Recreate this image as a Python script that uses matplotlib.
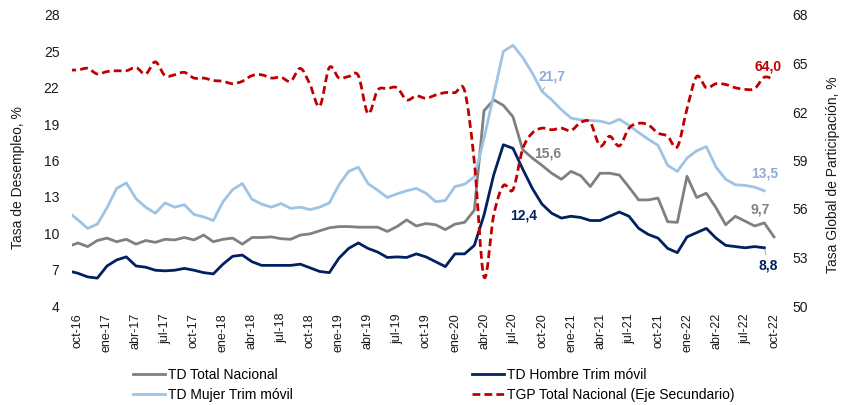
import numpy as np
import matplotlib
matplotlib.use("Agg")
import matplotlib.pyplot as plt
from matplotlib.lines import Line2D
from matplotlib.path import Path
from matplotlib.patches import PathPatch

plt.rcParams['font.family'] = ['Liberation Sans', 'DejaVu Sans']

# ---- data (first value = sep-16, partially visible at the left edge) ----
td_total = [8.9, 9.2, 8.9, 9.4, 9.6, 9.3, 9.5, 9.1, 9.4, 9.25, 9.5,
            9.45, 9.65, 9.45, 9.85, 9.3, 9.5, 9.6, 9.1, 9.65, 9.65, 9.7,
            9.55, 9.5, 9.85, 9.95, 10.2, 10.45, 10.55, 10.55, 10.5, 10.5, 10.5,
            10.15, 10.55, 11.1, 10.6, 10.8, 10.7, 10.3, 10.75, 10.9, 11.9,
            20.1, 21.0, 20.55, 19.6, 16.9, 16.2, 15.6, 14.95, 14.45, 15.1,
            14.75, 13.85, 14.95, 14.95, 14.8, 13.8, 12.75, 12.75, 12.9, 10.95,
            10.9, 14.7, 12.95, 13.3, 12.1, 10.7, 11.4, 11.0, 10.6, 10.85, 9.7]

td_mujer = [11.75, 11.1, 10.4, 10.75, 12.1, 13.7, 14.15, 12.85, 12.15, 11.65, 12.5,
            12.15, 12.35, 11.55, 11.35, 11.05, 12.6, 13.6, 14.1, 12.8, 12.4, 12.15,
            12.45, 12.05, 12.15, 11.95, 12.15, 12.5, 14.0, 15.1, 15.45, 14.1, 13.55,
            12.95, 13.25, 13.5, 13.7, 13.3, 12.6, 12.7, 13.85, 14.05, 14.65,
            17.8, 21.4, 25.0, 25.5, 24.5, 23.2, 21.7, 21.0, 20.2, 19.5,
            19.35, 19.3, 19.25, 19.05, 19.4, 18.9, 18.3, 17.75, 17.25, 15.6,
            15.1, 16.2, 16.8, 17.15, 15.45, 14.45, 14.0, 13.95, 13.8, 13.5]

td_hombre = [6.9, 6.7, 6.4, 6.3, 7.3, 7.8, 8.05, 7.3, 7.2, 6.95, 6.9,
             6.95, 7.1, 6.95, 6.75, 6.65, 7.45, 8.1, 8.2, 7.65, 7.35, 7.35,
             7.35, 7.35, 7.45, 7.15, 6.85, 6.75, 7.95, 8.75, 9.2, 8.75, 8.45,
             8.0, 8.05, 8.0, 8.3, 8.05, 7.65, 7.25, 8.3, 8.3, 9.0,
             11.5, 14.8, 17.3, 17.0, 15.3, 13.7, 12.4, 11.65, 11.25, 11.4,
             11.3, 11.05, 11.05, 11.4, 11.75, 11.4, 10.4, 9.9, 9.6, 8.75,
             8.4, 9.7, 10.05, 10.4, 9.6, 9.0, 8.9, 8.8, 8.9, 8.8]

tgp_total = [64.6, 64.6, 64.7, 64.35, 64.5, 64.55, 64.55, 64.75, 64.35, 65.1, 64.25,
             64.3, 64.45, 64.1, 64.1, 63.95, 63.9, 63.75, 63.9, 64.25, 64.3, 64.1,
             64.15, 63.9, 64.7, 63.7, 62.35, 64.75, 64.1, 64.2, 64.25, 61.9, 63.35,
             63.45, 63.5, 62.75, 63.0, 62.85, 63.05, 63.2, 63.2, 63.3, 58.9,
             51.8, 55.6, 57.45, 57.2, 59.7, 60.7, 61.0, 60.9, 61.0, 60.85,
             61.35, 61.35, 59.9, 60.5, 59.9, 61.0, 61.3, 61.2, 60.7, 60.5,
             59.85, 62.2, 64.2, 63.5, 63.75, 63.7, 63.5, 63.4, 63.45, 64.15, 64.0]

tick_labels = ['oct-16', 'ene-17', 'abr-17', 'jul-17', 'oct-17', 'ene-18', 'abr-18',
               'jul-18', 'oct-18', 'ene-19', 'abr-19', 'jul-19', 'oct-19', 'ene-20',
               'abr-20', 'jul-20', 'oct-20', 'ene-21', 'abr-21', 'jul-21', 'oct-21',
               'ene-22', 'abr-22', 'jul-22', 'oct-22']

series_names = ['TD Total Nacional', 'TD Hombre Trim móvil',
                'TD Mujer Trim móvil', 'TGP Total Nacional (Eje Secundario)']

c_total = '#808080'
c_hombre = '#002060'
c_mujer = '#9DC3E6'
c_tgp = '#C00000'
c_mujer_lbl = '#8FAADC'

x_total = np.arange(len(td_total)) - 1
x_mujer = np.arange(len(td_mujer)) - 1
x_hombre = np.arange(len(td_hombre)) - 1
x_tgp = np.arange(len(tgp_total)) - 1

W, H = 851, 405
fig = plt.figure(figsize=(W / 100, H / 100), dpi=100)
ax = fig.add_axes([72 / W, 1 - 306 / H, 708 / W, 291 / H])
ax2 = ax.twinx()

lw = 2.0
dash = (0, (2.8, 1.5))
ax.plot(x_total, td_total, color=c_total, lw=lw, solid_joinstyle='round')
ax.plot(x_mujer, td_mujer, color=c_mujer, lw=lw, solid_joinstyle='round')
ax.plot(x_hombre, td_hombre, color=c_hombre, lw=lw, solid_joinstyle='round')


# TGP drawn as a smoothed line (Bezier path through every data point, like Excel)
def smooth_path(xs, ys):
    P = np.column_stack([xs, ys]).astype(float)
    n = len(P)
    verts = [P[0]]
    codes = [Path.MOVETO]
    for i in range(n - 1):
        p0 = P[i - 1] if i > 0 else P[i]
        p1 = P[i]
        p2 = P[i + 1]
        p3 = P[i + 2] if i + 2 < n else P[i + 1]
        c1 = p1 + (p2 - p0) / 6.0
        c2 = p2 - (p3 - p1) / 6.0
        verts += [c1, c2, p2]
        codes += [Path.CURVE4] * 3
    return Path(verts, codes)


ax2.add_patch(PathPatch(smooth_path(x_tgp, tgp_total), fill=False,
                        edgecolor=c_tgp, lw=lw, linestyle=dash,
                        capstyle='butt', joinstyle='round'))

ax.set_xlim(-0.62, 72.62)
ax.set_ylim(4, 28)
ax.set_yticks(np.arange(4, 29, 3))
ax2.set_xlim(-0.62, 72.62)
ax2.set_ylim(50, 68)
ax2.set_yticks(np.arange(50, 69, 3))

ax.set_xticks(np.arange(0, 73, 3))
ax.set_xticklabels(tick_labels, rotation=90, fontsize=9)
tc = '#1a1a1a'
ax.tick_params(axis='x', length=0, pad=5, colors=tc)
ax.tick_params(axis='y', length=0, pad=9, labelsize=10, colors=tc)
ax2.tick_params(axis='y', length=0, pad=9, labelsize=10, colors=tc)

for a in (ax, ax2):
    for s in a.spines.values():
        s.set_visible(False)

ax.set_ylabel('Tasa de Desempleo, %', fontsize=10, color=tc)
ax.yaxis.set_label_coords((25 - 72) / 708, 0.44)
ax2.set_ylabel('Tasa Global de Participación, %', fontsize=10, color=tc)
ax2.yaxis.set_label_coords((826 - 72) / 708, 0.45)


# ---- data labels ----
def lab(a, xv, yv, txt, color, dx, dy, leader=False):
    kw = dict(textcoords='offset pixels', ha='center', va='center',
              fontsize=10, fontweight='bold', color=color)
    if leader:
        kw['arrowprops'] = dict(arrowstyle='-', color='#A6A6A6', lw=0.7,
                                shrinkA=1, shrinkB=1)
    a.annotate(txt, xy=(xv, yv), xytext=(dx, dy), **kw)


i48 = list(x_mujer).index(48)
lab(ax, 48, td_mujer[i48], '21,7', c_mujer_lbl, 10, 15, leader=True)
lab(ax, 48, td_total[list(x_total).index(48)], '15,6', c_total, 6, 12)
lab(ax, 48, td_hombre[list(x_hombre).index(48)], '12,4', c_hombre, -18, -11)
lab(ax, x_mujer[-1], td_mujer[-1], '13,5', c_mujer_lbl, 0, 17)
lab(ax, x_total[-1], td_total[-1], '9,7', c_total, -14, 27)
lab(ax, x_hombre[-1], td_hombre[-1], '8,8', c_hombre, 4, -18, leader=True)
lab(ax2, x_tgp[-1], tgp_total[-1], '64,0', c_tgp, -6, 13)

# ---- legend ----
h_total = Line2D([], [], color=c_total, lw=lw)
h_hombre = Line2D([], [], color=c_hombre, lw=lw)
h_mujer = Line2D([], [], color=c_mujer, lw=lw)
h_tgp = Line2D([], [], color=c_tgp, lw=lw, linestyle=dash)
common = dict(frameon=False, fontsize=10, handlelength=2.3, handletextpad=0.2,
              labelspacing=0.45, borderpad=0, borderaxespad=0, loc='upper left')
fig.legend([h_total, h_mujer], [series_names[0], series_names[2]],
           bbox_to_anchor=(133 / W, 1 - 368 / H), **common)
fig.legend([h_hombre, h_tgp], [series_names[1], series_names[3]],
           bbox_to_anchor=(472 / W, 1 - 368 / H), **common)

fig.savefig('out.png', dpi=100)
